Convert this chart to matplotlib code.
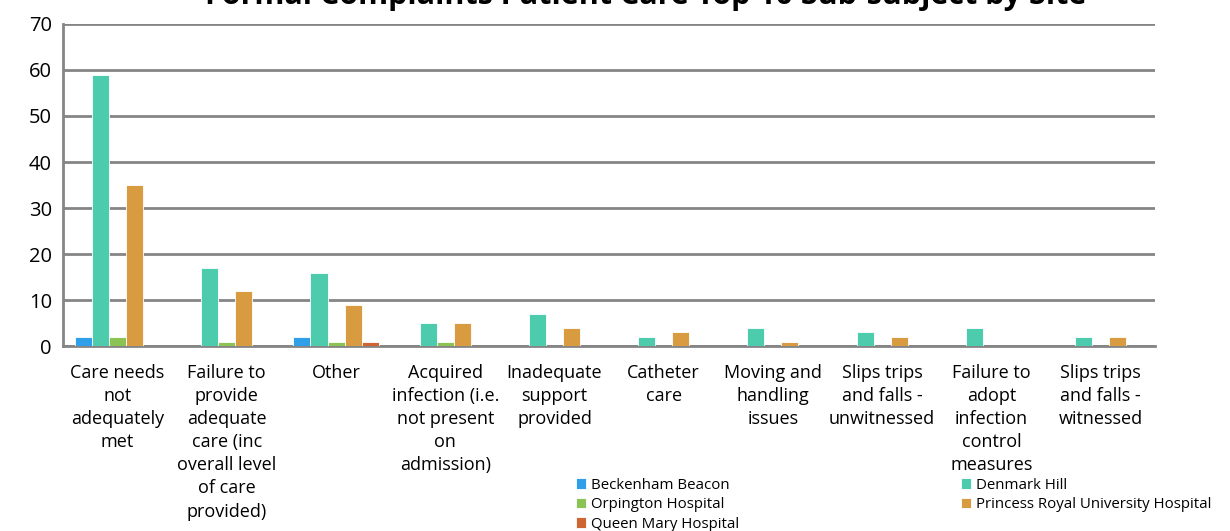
import matplotlib.pyplot as plt
import numpy as np

plt.rcParams['font.family'] = ['Open Sans', 'DejaVu Sans']

# categorias (rótulos já quebrados como no gráfico original)
categorias = [
    "Care needs\nnot\nadequately\nmet",
    "Failure to\nprovide\nadequate\ncare (inc\noverall level\nof care\nprovided)",
    "Other",
    "Acquired\ninfection (i.e.\nnot present\non\nadmission)",
    "Inadequate\nsupport\nprovided",
    "Catheter\ncare",
    "Moving and\nhandling\nissues",
    "Slips trips\nand falls -\nunwitnessed",
    "Failure to\nadopt\ninfection\ncontrol\nmeasures",
    "Slips trips\nand falls -\nwitnessed",
]

beckenham = [2, 0, 2, 0, 0, 0, 0, 0, 0, 0]
denmark_hill = [59, 17, 16, 5, 7, 2, 4, 3, 4, 2]
orpington = [2, 1, 1, 1, 0, 0, 0, 0, 0, 0]
princess_royal = [35, 12, 9, 5, 4, 3, 1, 2, 0, 2]
queen_mary = [0, 0, 1, 0, 0, 0, 0, 0, 0, 0]

series = [
    ("Beckenham Beacon", beckenham, "#2e9fe8"),
    ("Denmark Hill", denmark_hill, "#4ccbad"),
    ("Orpington Hospital", orpington, "#8bc455"),
    ("Princess Royal University Hospital", princess_royal, "#d99b3f"),
    ("Queen Mary Hospital", queen_mary, "#cf6532"),
]

fig = plt.figure(figsize=(12.3, 5.31), dpi=100)
ax = fig.add_axes([0.0512, 0.348, 0.888, 0.607])

x = np.arange(len(categorias))
largura = 0.156
barras = {}
for i, (nome, vals, cor) in enumerate(series):
    pos = x + (i - 2) * largura
    barras[nome] = ax.bar(pos, vals, largura, color=cor, label=nome,
                          edgecolor="white", linewidth=0.6, zorder=3)

ax.set_xlim(-0.5, len(categorias) - 0.5)
ax.set_ylim(0, 70)
ax.set_yticks(range(0, 71, 10))
ax.yaxis.grid(True, color="#858585", linewidth=2, zorder=0)
ax.set_axisbelow(True)
ax.tick_params(axis="y", length=0, labelsize=14.5, pad=8)
ax.tick_params(axis="x", length=0, labelsize=13, pad=13)
ax.set_xticks(x)
ax.set_xticklabels(categorias, linespacing=1.36, va="top")

for lado in ["top", "right"]:
    ax.spines[lado].set_visible(False)
ax.spines["left"].set_color("#858585")
ax.spines["left"].set_linewidth(2)
ax.spines["bottom"].set_color("#858585")
ax.spines["bottom"].set_linewidth(2)

# título cortado no topo, como no original
fig.text(0.525, 0.993, "Formal Complaints Patient Care Top 10 Sub-subject by Site",
         fontsize=22, fontweight="bold", ha="center", va="baseline")

ordem = ["Beckenham Beacon", "Orpington Hospital", "Queen Mary Hospital",
         "Denmark Hill", "Princess Royal University Hospital"]
fig.legend([barras[n] for n in ordem], ordem, ncol=2, loc="lower left",
           bbox_to_anchor=(0.457, -0.027), frameon=False, fontsize=10.8,
           handlelength=0.7, handleheight=0.7, handletextpad=0.3,
           columnspacing=14.8, labelspacing=0.3)

fig.savefig("out.png", dpi=100)
